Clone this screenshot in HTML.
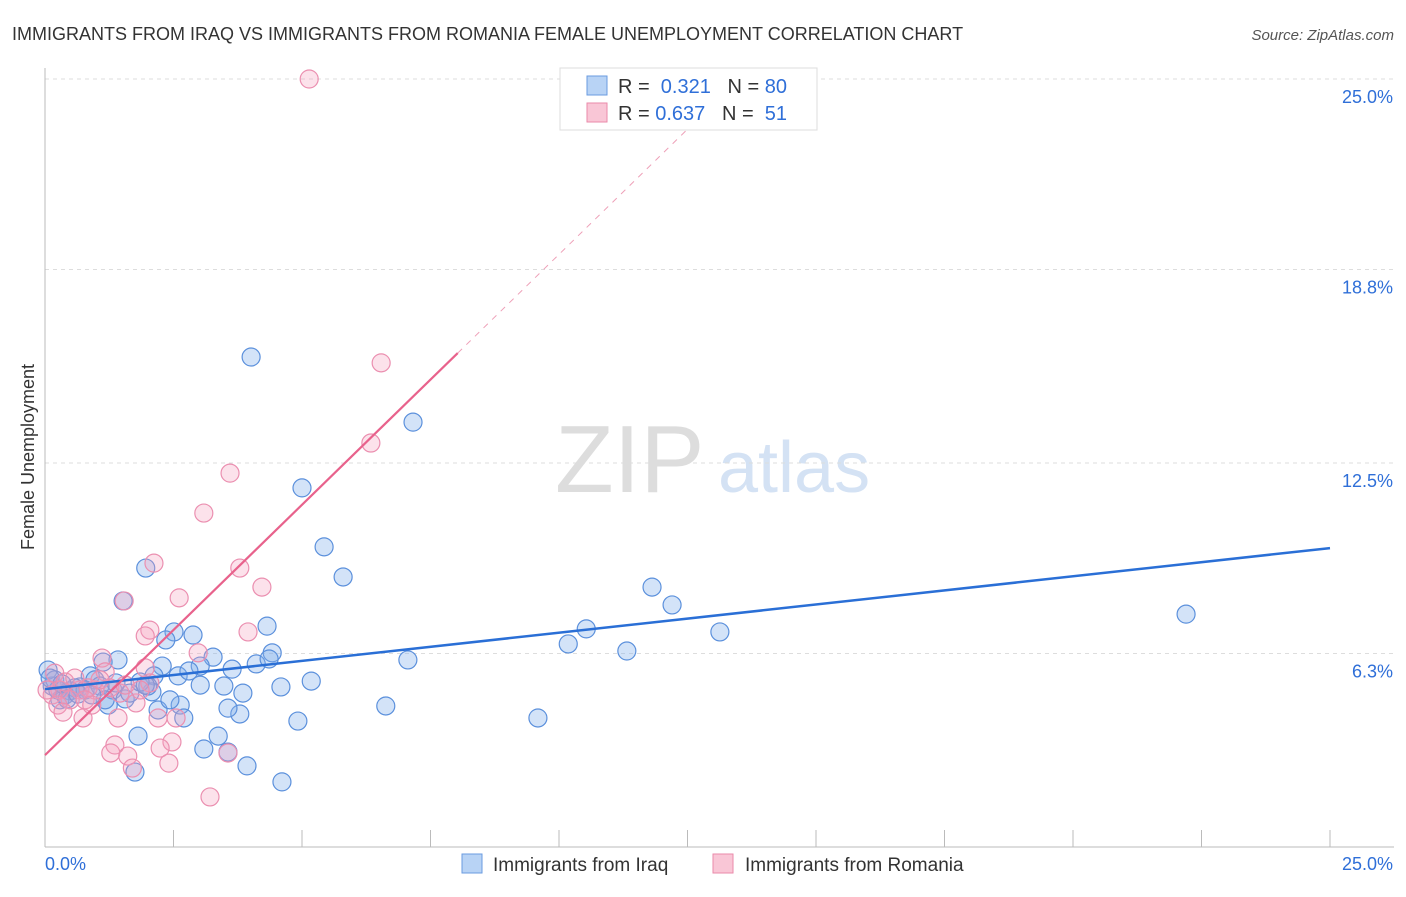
<!DOCTYPE html>
<html><head><meta charset="utf-8"><style>
body{margin:0;background:#fff;font-family:"Liberation Sans",sans-serif;}
svg text{font-family:"Liberation Sans",sans-serif;}
</style></head><body>
<svg id="c" width="1406" height="892" viewBox="0 0 1406 892">
<text x="12" y="40" font-size="18" fill="#333">IMMIGRANTS FROM IRAQ VS IMMIGRANTS FROM ROMANIA FEMALE UNEMPLOYMENT CORRELATION CHART</text>
<text x="1394" y="40" font-size="15" fill="#555" text-anchor="end" font-style="italic">Source: ZipAtlas.com</text>
<text x="34" y="457" font-size="18" fill="#333" text-anchor="middle" transform="rotate(-90 34 457)">Female Unemployment</text>
<text x="555" y="492" font-size="96" fill="#ddd" font-family="Liberation Serif">ZIP</text>
<text x="718" y="492" font-size="72" fill="#d4e2f4">atlas</text>
<g id="grid"></g><g id="pts"></g><g id="lines"></g>
<g>
<rect x="560" y="68" width="257" height="62" fill="#fff" stroke="#ddd"/>
<rect x="587" y="76" width="20" height="19" fill="#b8d3f5" stroke="#6a9be0"/>
<rect x="587" y="103" width="20" height="19" fill="#f9c6d6" stroke="#ea8aaa"/>
<text x="618" y="93" font-size="20" fill="#333">R = <tspan fill="#2f6fd8">&#160;0.321</tspan>&#160;&#160;&#160;N = <tspan fill="#2f6fd8">80</tspan></text>
<text x="618" y="120" font-size="20" fill="#333">R = <tspan fill="#2f6fd8">0.637</tspan>&#160;&#160;&#160;N = <tspan fill="#2f6fd8">&#160;51</tspan></text>
</g>
<g>
<rect x="462" y="854" width="20" height="19" fill="#b8d3f5" stroke="#6a9be0"/>
<text x="493" y="871" font-size="19" fill="#333">Immigrants from Iraq</text>
<rect x="713" y="854" width="20" height="19" fill="#f9c6d6" stroke="#ea8aaa"/>
<text x="745" y="871" font-size="19" fill="#333">Immigrants from Romania</text>
</g>
</svg>
<script>
const yTicks=[25,18.8,12.5,6.3];
const yTickLabels=["25.0%","18.8%","12.5%","6.3%"];
const xTickLabels=["0.0%","25.0%"];
const iraqX=[4.01,7.16,5.00,5.43,5.80,1.96,1.52,11.81,12.20,10.53,13.13,11.32,10.18,22.20,9.59,7.06,6.63,4.32,4.42,5.18,4.59,4.92,4.61,3.93,3.56,3.37,3.09,3.79,3.56,3.85,3.48,3.64,4.11,4.36,3.27,3.02,2.88,2.51,2.35,2.28,2.12,2.08,2.59,2.80,2.63,2.70,2.20,2.43,1.81,1.75,1.42,1.13,0.88,0.97,1.23,1.32,1.56,1.65,2.00,1.85,1.38,0.68,0.49,0.29,0.14,0.06,0.19,0.39,0.58,0.78,1.07,1.95,3.02,1.17,0.25,0.91,0.10,0.33,0.43,0.64];
const iraqY=[15.95,13.83,11.69,9.77,8.79,9.08,8.01,8.46,7.88,7.10,7.00,6.38,6.61,7.58,4.20,6.09,4.59,7.19,6.32,5.40,5.21,4.10,2.12,2.64,3.09,3.61,3.19,4.33,4.52,5.01,5.24,5.79,5.96,6.12,6.18,5.89,6.90,7.00,6.74,5.89,5.57,5.05,5.57,5.73,4.62,4.20,4.46,4.79,3.61,2.44,6.09,6.02,5.57,5.44,4.62,5.11,4.82,5.01,5.24,5.37,5.34,5.21,5.08,4.79,5.24,5.76,5.44,4.95,5.18,5.11,5.24,5.27,5.27,4.79,5.11,4.95,5.50,5.31,4.82,4.98];
const romX=[5.14,6.54,6.34,3.60,3.09,2.12,3.79,4.22,2.61,1.54,3.95,2.04,1.95,2.98,1.11,1.17,1.95,2.04,1.77,2.55,2.20,1.42,0.74,2.47,2.24,1.36,1.28,1.61,1.70,2.41,3.56,3.21,0.97,0.68,0.29,0.19,0.49,0.84,1.26,1.46,0.14,0.39,1.07,0.58,0.78,1.85,0.25,1.56,0.91,0.04,0.35];
const romY=[25.0,15.76,13.15,12.17,10.87,9.24,9.08,8.46,8.11,8.01,7.00,7.06,6.87,6.32,6.15,5.70,5.83,5.34,4.69,4.20,4.20,4.20,4.20,3.42,3.22,3.32,3.06,2.96,2.57,2.73,3.06,1.63,5.11,5.11,5.11,5.66,4.79,5.18,5.18,5.01,4.95,5.37,5.44,5.50,4.79,5.11,4.62,5.27,4.62,5.11,4.39];
const iraqTrend=[5.14,9.73];
const romTrend=[2.99,1.63];
const NS="http://www.w3.org/2000/svg";
const X=v=>45+v*51.4, Y=v=>847-v*30.72;
function mk(t,a,p){const e=document.createElementNS(NS,t);for(const k in a)e.setAttribute(k,a[k]);p.appendChild(e);return e;}
const g=document.getElementById('grid');
yTicks.forEach((t,i)=>{
 const l=mk('line',{x1:45,x2:1394,y1:Y(t),y2:Y(t),stroke:'#ddd','stroke-dasharray':'4,4'},g);
 
 
 const tx=mk('text',{x:1393,y:Y(t)+24,'font-size':18,fill:'#2f6fd8','text-anchor':'end'},g);
 tx.textContent=yTickLabels[i];
 
 
});
mk('line',{x1:45,x2:45,y1:68,y2:847,stroke:'#bbb'},g);
mk('line',{x1:45,x2:1394,y1:847,y2:847,stroke:'#bbb'},g);
for(let i=0;i<=10;i++){mk('line',{x1:X(i*2.5),x2:X(i*2.5),y1:830,y2:847,stroke:'#bbb'},g);}
const xl=mk('text',{x:45,y:870,'font-size':18,fill:'#2f6fd8'},g);xl.textContent=xTickLabels[0];


const xr=mk('text',{x:1393,y:870,'font-size':18,fill:'#2f6fd8','text-anchor':'end'},g);xr.textContent=xTickLabels[1];


const p=document.getElementById('pts');
iraqX.forEach((x,i)=>{const c=mk('circle',{cx:X(x),cy:Y(iraqY[i]),r:9,fill:'rgba(130,175,235,0.35)',stroke:'#5b90dc','stroke-width':1.2},p);
 
 });
romX.forEach((x,i)=>{const c=mk('circle',{cx:X(x),cy:Y(romY[i]),r:9,fill:'rgba(245,160,190,0.3)',stroke:'#eb8fb0','stroke-width':1.2},p);
 
 });
const L=document.getElementById('lines');
const bl=mk('line',{x1:X(0),y1:Y(iraqTrend[0]),x2:X(25),y2:Y(iraqTrend[1]),stroke:'#2a6fd6','stroke-width':2.5},L);


const rl=mk('line',{x1:X(0),y1:Y(romTrend[0]),x2:X(8.03),y2:Y(romTrend[0]+romTrend[1]*8.03),stroke:'#e8628c','stroke-width':2.2},L);


const rd=mk('line',{x1:X(8.03),y1:Y(romTrend[0]+romTrend[1]*8.03),x2:X(12.75),y2:Y(romTrend[0]+romTrend[1]*12.75),stroke:'#eea0b8','stroke-width':1,'stroke-dasharray':'6,6'},L);


</script>
</body></html>
